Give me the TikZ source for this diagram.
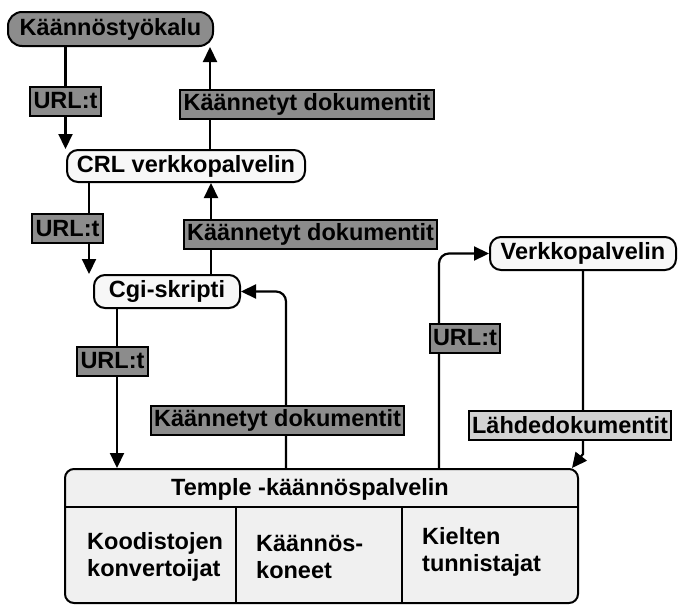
\documentclass[tikz,border=0pt]{standalone}
\usepackage{fontspec}
\setmainfont{Liberation Sans}
\usetikzlibrary{arrows.meta}
\pgfdeclarelayer{background}
\pgfsetlayers{background,main}

\begin{document}
\begin{tikzpicture}[x=1pt,y=-1pt,
    every node/.style={font=\fontsize{23.5}{27}\selectfont\bfseries},
    box/.style={draw,line width=2pt,rounded corners=11pt,fill=gray!6,inner sep=0pt},
    tag/.style={draw,line width=2pt,fill=black!45,inner sep=3.5pt,minimum height=29pt},
    cell/.style={anchor=west,align=left,inner sep=0pt},
    wire/.style={line width=2pt},
    conn/.style={line width=2.2pt,-{Triangle[length=15pt,width=14pt]}}]
    \useasboundingbox (0,0) rectangle (678,605);
    % boxes
    \node[box,fill=black!45,rounded corners=14pt,minimum width=205pt,minimum height=34pt] (ktool) at (110.5,29) {Käännöstyökalu};
    \node[box,minimum width=238pt,minimum height=32pt] (crl) at (186,166) {CRL verkkopalvelin};
    \node[box,minimum width=146pt,minimum height=33pt] (cgi) at (167,291.5) {Cgi-skripti};
    \node[box,minimum width=186pt,minimum height=33pt] (verkko) at (583,253.5) {Verkkopalvelin};
    \node[box,fill=gray!12,rounded corners=9pt,minimum width=513pt,minimum height=134pt] (temple) at (321.5,536) {};
    \node (thead) at (310,489) {Temple -käännöspalvelin};
    \draw[wire] ([yshift=-39pt]temple.north west) -- ([yshift=-39pt]temple.north east);
    \draw[wire] ([shift={(172pt,-39pt)}]temple.north west) -- ([xshift=172pt]temple.south west);
    \draw[wire] ([shift={(338pt,-39pt)}]temple.north west) -- ([xshift=338pt]temple.south west);
    \node[cell] (konv) at (87,557) {Koodistojen\\konvertoijat};
    \node[cell] (kone) at (256,557) {Käännös-\\koneet};
    \node[cell] (tunn) at (422,552) {Kielten\\tunnistajat};
    % labels on the connectors
    \node[tag] (u1) at (65.5,101) {URL:t};
    \node[tag] (d1) at (307,104) {Käännetyt dokumentit};
    \node[tag] (u2) at (67.5,228.5) {URL:t};
    \node[tag] (d2) at (310.5,234) {Käännetyt dokumentit};
    \node[tag] (u3) at (112.5,361) {URL:t};
    \node[tag] (d3) at (277.5,420) {Käännetyt dokumentit};
    \node[tag] (u4) at (465,338) {URL:t};
    \node[tag,fill=gray!35] (lahde) at (570,425) {Lähdedokumentit};
    % connectors
    \begin{pgfonlayer}{background}
        \draw[conn] (ktool.south -| u1) -- (crl.north -| u1);
        \draw[conn] ([xshift=24pt]crl.north) -- ([xshift=24pt]crl.north |- ktool.south);
        \draw[conn] ([xshift=23pt]crl.south west) -- ([xshift=23pt]crl.south west |- cgi.north);
        \draw[conn] ([xshift=44pt]cgi.north) -- ([xshift=44pt]cgi.north |- crl.south);
        \draw[conn] ([xshift=24pt]cgi.south west) -- ([xshift=24pt]cgi.south west |- temple.north);
        \draw[conn,rounded corners=10pt] ([xshift=222pt]temple.north west) |- (cgi.east);
        \draw[conn,rounded corners=10pt] ([xshift=375pt]temple.north west) |- (verkko.west);
        \draw[conn] (verkko.south) -- ([yshift=14pt]verkko.south |- temple.north) -- ([xshift=-7pt]temple.north east);
    \end{pgfonlayer}
\end{tikzpicture}
\end{document}
